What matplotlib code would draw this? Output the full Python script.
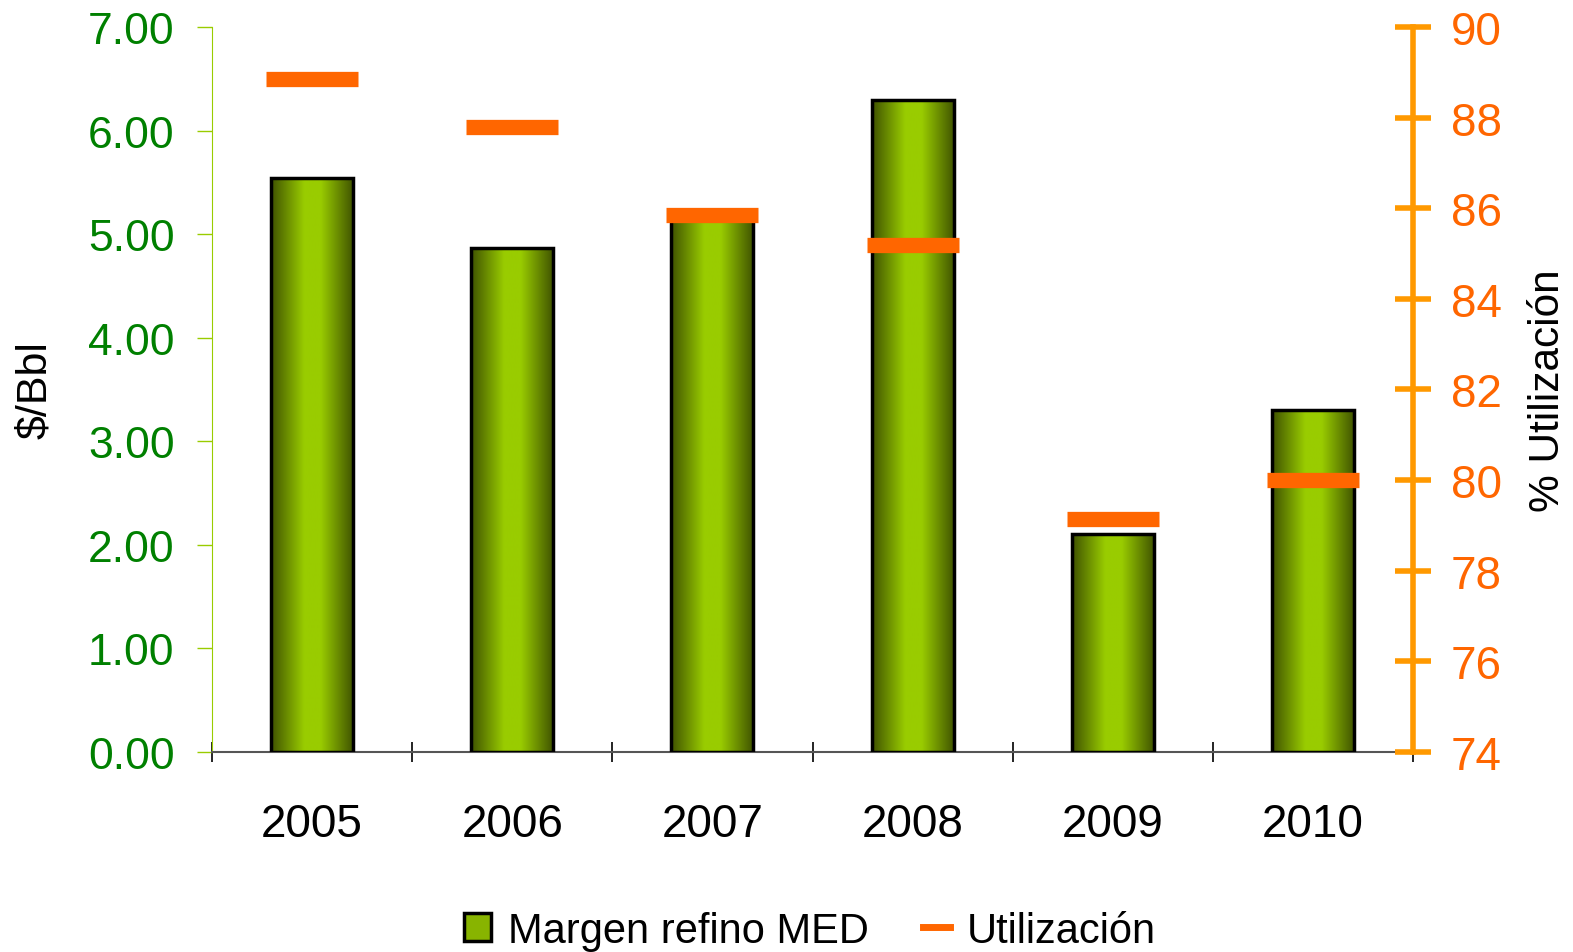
import numpy as np
import matplotlib.pyplot as plt
from matplotlib.patches import Rectangle
from matplotlib.colors import LinearSegmentedColormap
from matplotlib.lines import Line2D

plt.rcParams['font.family'] = ['Liberation Sans', 'DejaVu Sans']

years = ['2005', '2006', '2007', '2008', '2009', '2010']
margen = [5.54, 4.87, 5.15, 6.30, 2.10, 3.30]        # $/Bbl
utilizacion = [88.85, 87.8, 85.85, 85.2, 79.15, 80.0]  # %

fig = plt.figure(figsize=(15.73, 9.53), dpi=100)
ax = fig.add_axes([0.1348, 0.2099, 0.7635, 0.7607])
ax2 = ax.twinx()

x = np.arange(len(years))
width = 0.41

# gradient for the bars (dark - bright - dark)
cmap = LinearSegmentedColormap.from_list('grn', [(0, '#3f5200'), (0.4, '#99cc00'), (0.6, '#99cc00'), (1, '#3f5200')])
grad = np.linspace(0, 1, 512).reshape(1, -1)

bars = ax.bar(x, margen, width, color='none', edgecolor='black', linewidth=2.5, zorder=3)
for b in bars:
    x0, y0 = b.get_x(), b.get_y()
    im = ax.imshow(grad, cmap=cmap, aspect='auto', interpolation='bilinear',
                   extent=[x0, x0 + b.get_width(), y0, y0 + b.get_height()], zorder=2)
    im.set_clip_path(b)

ax.set_xlim(-0.5, len(years) - 0.5)
ax.set_ylim(0, 7)
ax.set_yticks(np.arange(0, 7.01, 1))
ax.set_yticklabels(['%.2f' % v for v in np.arange(0, 7.01, 1)])
ax.tick_params(axis='y', colors='#99cc00', labelcolor='#008000', labelsize=32, length=11, width=1, pad=16)
ax.set_xticks(x)
ax.set_xticklabels(years)
ax.tick_params(axis='x', length=0, labelsize=33, pad=36)
ax.set_xticks(np.arange(-0.5, len(years)), minor=True)
ax.tick_params(axis='x', which='minor', length=15, width=1.2, color='black', direction='inout')
ax.set_ylabel('$/Bbl', fontsize=31)
ax.yaxis.set_label_coords(-0.131, 0.5)

for s in ['top', 'right']:
    ax.spines[s].set_visible(False)
ax.spines['left'].set_color('#99cc00')
ax.spines['bottom'].set_color('#555555')
ax.spines['bottom'].set_linewidth(1.5)

# utilization markers
ax2.scatter(x, utilizacion, marker='_', s=66 ** 2, linewidths=11, color='#ff6600', zorder=5)
ax2.set_ylim(74, 90)
ax2.set_yticks(np.arange(74, 91, 2))
ax2.tick_params(axis='y', colors='#ff9900', labelcolor='#ff6600', labelsize=33, length=26, width=4, direction='inout', pad=14)
for s in ['top', 'left', 'bottom']:
    ax2.spines[s].set_visible(False)
ax2.spines['right'].set_color('#ff9900')
ax2.spines['right'].set_linewidth(4)
ax2.set_ylabel('% Utilización', fontsize=30.5)
ax2.yaxis.set_label_coords(1.096, 0.5)

handles = [Rectangle((0, 0), 1, 1, facecolor='#88b400', edgecolor='black', linewidth=2.5),
           Line2D([0], [0], color='#ff6600', linewidth=5)]
fig.legend(handles, ['Margen refino MED', 'Utilización'], loc='lower center', bbox_to_anchor=(0.515, -0.038),
           ncol=2, frameon=False, fontsize=30, handlelength=0.65, handleheight=0.65, handletextpad=0.4, columnspacing=1.3)

fig.savefig('out.png', dpi=100)
